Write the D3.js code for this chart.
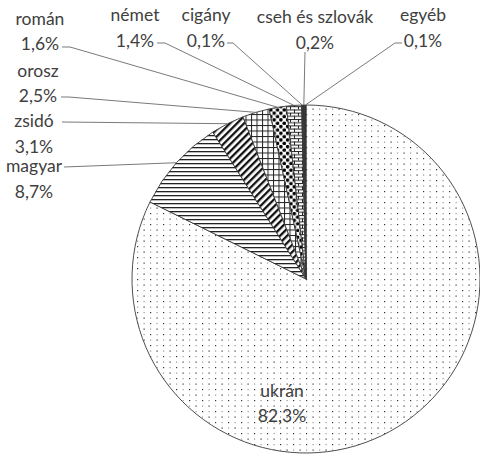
<!DOCTYPE html>
<html>
<head>
<meta charset="utf-8">
<script src="https://cdn.jsdelivr.net/npm/d3@7"></script>
<style>
  html, body { margin: 0; padding: 0; background: #fff; }
  svg { display: block; }
  text { font-family: Lato, "Open Sans", sans-serif; font-size: 17.5px; fill: #404040; }
</style>
</head>
<body>
<svg id="chart" width="480" height="456"></svg>
<script>
// ---- data ----
const categories = ["ukrán", "magyar", "zsidó", "orosz", "román", "német", "cigány", "cseh és szlovák", "egyéb"];
const values = [82.3, 8.7, 3.1, 2.5, 1.6, 1.4, 0.1, 0.2, 0.1];
const valueLabels = values.map(v => v.toFixed(1).replace(".", ",") + "%");

// ---- layout (label placement, not data) ----
const cx = 306, cy = 279, R = 174;
const labelLayout = {
  "ukrán":            { x: 282, y1: 397, y2: 422, lead: null },
  "magyar":           { x: 34,  y1: 172, y2: 198, lead: [[64, 167]] },
  "zsidó":            { x: 34,  y1: 127, y2: 153, lead: [[62, 122]] },
  "orosz":            { x: 38,  y1: 77,  y2: 102, lead: [[61, 97], [69, 97]] },
  "román":            { x: 40,  y1: 25,  y2: 50,  lead: [[62, 47], [70, 47]] },
  "német":            { x: 135, y1: 21,  y2: 47,  lead: [[157, 43], [165, 43]] },
  "cigány":           { x: 206, y1: 21,  y2: 47,  lead: [[227, 43], [233, 43]] },
  "cseh és szlovák":  { x: 315, y1: 23,  y2: 49,  lead: [[305, 52]] },
  "egyéb":            { x: 423, y1: 21,  y2: 47,  lead: [[402, 43], [395, 43]] }
};

const svg = d3.select("#chart");
const defs = svg.append("defs");

function pat(id, w, h) {
  return defs.append("pattern").attr("id", id).attr("patternUnits", "userSpaceOnUse")
    .attr("width", w).attr("height", h);
}
// dotted (ukrán)
{
  const p = pat("p-dots", 13, 11);
  p.append("rect").attr("width", 13).attr("height", 11).attr("fill", "#fff");
  [[0, 0, "#333"], [6.5, 0, "#999"], [0, 5.5, "#999"], [6.5, 5.5, "#333"]].forEach(([x, y, c]) =>
    p.append("rect").attr("x", x).attr("y", y).attr("width", 1.2).attr("height", 1.2).attr("fill", c));
}
// horizontal lines (magyar)
{
  const p = pat("p-hlines", 8, 4);
  p.append("rect").attr("width", 8).attr("height", 4).attr("fill", "#fff");
  p.append("rect").attr("x", 0).attr("y", 0).attr("width", 8).attr("height", 1.3).attr("fill", "#222");
}
// diagonal stripes (zsidó)
{
  const p = pat("p-diag", 5, 5).attr("patternTransform", "rotate(45)");
  p.append("rect").attr("width", 5).attr("height", 5).attr("fill", "#fff");
  p.append("rect").attr("x", 0).attr("y", 0).attr("width", 2.3).attr("height", 5).attr("fill", "#111");
}
// grid (orosz)
{
  const p = pat("p-grid", 5.5, 5.5);
  p.append("rect").attr("width", 5.5).attr("height", 5.5).attr("fill", "#fff");
  p.append("rect").attr("x", 0).attr("y", 0).attr("width", 5.5).attr("height", 1).attr("fill", "#222");
  p.append("rect").attr("x", 0).attr("y", 0).attr("width", 1).attr("height", 5.5).attr("fill", "#222");
}
// large dots (román)
{
  const p = pat("p-bigdots", 6.7, 6.7);
  p.append("rect").attr("width", 6.7).attr("height", 6.7).attr("fill", "#fff");
  p.append("circle").attr("cx", 1.7).attr("cy", 1.7).attr("r", 1.8).attr("fill", "#000");
  p.append("circle").attr("cx", 5.05).attr("cy", 5.05).attr("r", 1.8).attr("fill", "#000");
}
// brick (német)
{
  const p = pat("p-brick", 8, 6.4);
  p.append("rect").attr("width", 8).attr("height", 6.4).attr("fill", "#fff");
  p.append("rect").attr("x", 0).attr("y", 0).attr("width", 8).attr("height", 1).attr("fill", "#222");
  p.append("rect").attr("x", 0).attr("y", 3.2).attr("width", 8).attr("height", 1).attr("fill", "#222");
  p.append("rect").attr("x", 0).attr("y", 0).attr("width", 1).attr("height", 3.2).attr("fill", "#222");
  p.append("rect").attr("x", 4).attr("y", 3.2).attr("width", 1).attr("height", 3.2).attr("fill", "#222");
}
const fills = ["url(#p-dots)", "url(#p-hlines)", "url(#p-diag)", "url(#p-grid)", "url(#p-bigdots)",
               "url(#p-brick)", "#222", "#333", "#222"];

const pie = d3.pie().sort(null).value(d => d)(values);
const arc = d3.arc().innerRadius(0).outerRadius(R);
const edge = d3.arc().innerRadius(R).outerRadius(R);

const g = svg.append("g").attr("transform", `translate(${cx},${cy})`);
g.selectAll("path.slice").data(pie).join("path")
  .attr("class", "slice")
  .attr("d", arc)
  .attr("fill", (d, i) => fills[i])
  .attr("stroke", "#3a3a3a")
  .attr("stroke-width", 0.9)
  .attr("stroke-linejoin", "round");

// leader lines
const line = d3.line();
pie.forEach((d, i) => {
  const L = labelLayout[categories[i]];
  if (!L.lead) return;
  const [ex, ey] = edge.centroid(d);
  const pts = L.lead.concat([[ex + cx, ey + cy]]);
  svg.append("path").attr("d", line(pts))
    .attr("fill", "none").attr("stroke", "#7a7a7a").attr("stroke-width", 1);
});

// labels
categories.forEach((c, i) => {
  const L = labelLayout[c];
  svg.append("text").attr("x", L.x).attr("y", L.y1).attr("text-anchor", "middle").text(c);
  svg.append("text").attr("x", L.x).attr("y", L.y2).attr("text-anchor", "middle").text(valueLabels[i]);
});
</script>
</body>
</html>
